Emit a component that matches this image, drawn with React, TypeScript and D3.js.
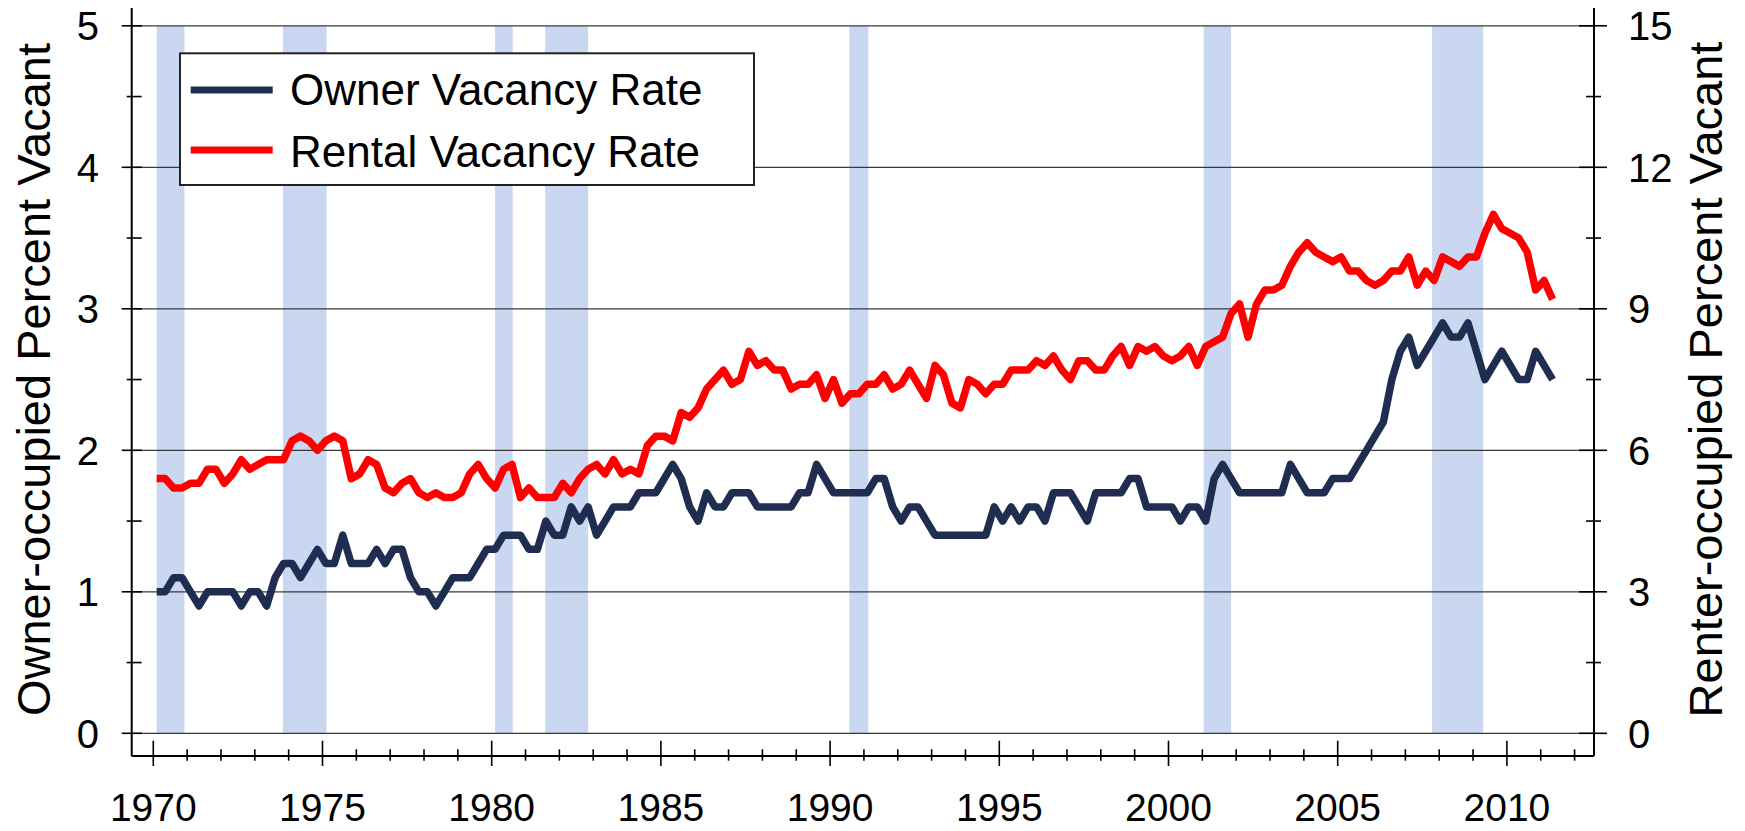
import React from "react";
import * as d3 from "d3";

// quarterly, 1970 Q1 .. 2011 Q2
const startYear = 1970;
const ownerRate = [
  1.0, 1.0, 1.1, 1.1, 1.0, 0.9, 1.0, 1.0, 1.0, 1.0,
  0.9, 1.0, 1.0, 0.9, 1.1, 1.2, 1.2, 1.1, 1.2, 1.3,
  1.2, 1.2, 1.4, 1.2, 1.2, 1.2, 1.3, 1.2, 1.3, 1.3,
  1.1, 1.0, 1.0, 0.9, 1.0, 1.1, 1.1, 1.1, 1.2, 1.3,
  1.3, 1.4, 1.4, 1.4, 1.3, 1.3, 1.5, 1.4, 1.4, 1.6,
  1.5, 1.6, 1.4, 1.5, 1.6, 1.6, 1.6, 1.7, 1.7, 1.7,
  1.8, 1.9, 1.8, 1.6, 1.5, 1.7, 1.6, 1.6, 1.7, 1.7,
  1.7, 1.6, 1.6, 1.6, 1.6, 1.6, 1.7, 1.7, 1.9, 1.8,
  1.7, 1.7, 1.7, 1.7, 1.7, 1.8, 1.8, 1.6, 1.5, 1.6,
  1.6, 1.5, 1.4, 1.4, 1.4, 1.4, 1.4, 1.4, 1.4, 1.6,
  1.5, 1.6, 1.5, 1.6, 1.6, 1.5, 1.7, 1.7, 1.7, 1.6,
  1.5, 1.7, 1.7, 1.7, 1.7, 1.8, 1.8, 1.6, 1.6, 1.6,
  1.6, 1.5, 1.6, 1.6, 1.5, 1.8, 1.9, 1.8, 1.7, 1.7,
  1.7, 1.7, 1.7, 1.7, 1.9, 1.8, 1.7, 1.7, 1.7, 1.8,
  1.8, 1.8, 1.9, 2.0, 2.1, 2.2, 2.5, 2.7, 2.8, 2.6,
  2.7, 2.8, 2.9, 2.8, 2.8, 2.9, 2.7, 2.5, 2.6, 2.7,
  2.6, 2.5, 2.5, 2.7, 2.6, 2.5,
];
const rentalRate = [
  5.4, 5.4, 5.2, 5.2, 5.3, 5.3, 5.6, 5.6, 5.3, 5.5,
  5.8, 5.6, 5.7, 5.8, 5.8, 5.8, 6.2, 6.3, 6.2, 6.0,
  6.2, 6.3, 6.2, 5.4, 5.5, 5.8, 5.7, 5.2, 5.1, 5.3,
  5.4, 5.1, 5.0, 5.1, 5.0, 5.0, 5.1, 5.5, 5.7, 5.4,
  5.2, 5.6, 5.7, 5.0, 5.2, 5.0, 5.0, 5.0, 5.3, 5.1,
  5.4, 5.6, 5.7, 5.5, 5.8, 5.5, 5.6, 5.5, 6.1, 6.3,
  6.3, 6.2, 6.8, 6.7, 6.9, 7.3, 7.5, 7.7, 7.4, 7.5,
  8.1, 7.8, 7.9, 7.7, 7.7, 7.3, 7.4, 7.4, 7.6, 7.1,
  7.5, 7.0, 7.2, 7.2, 7.4, 7.4, 7.6, 7.3, 7.4, 7.7,
  7.4, 7.1, 7.8, 7.6, 7.0, 6.9, 7.5, 7.4, 7.2, 7.4,
  7.4, 7.7, 7.7, 7.7, 7.9, 7.8, 8.0, 7.7, 7.5, 7.9,
  7.9, 7.7, 7.7, 8.0, 8.2, 7.8, 8.2, 8.1, 8.2, 8.0,
  7.9, 8.0, 8.2, 7.8, 8.2, 8.3, 8.4, 8.9, 9.1, 8.4,
  9.1, 9.4, 9.4, 9.5, 9.9, 10.2, 10.4, 10.2, 10.1, 10.0,
  10.1, 9.8, 9.8, 9.6, 9.5, 9.6, 9.8, 9.8, 10.1, 9.5,
  9.8, 9.6, 10.1, 10.0, 9.9, 10.1, 10.1, 10.6, 11.0, 10.7,
  10.6, 10.5, 10.2, 9.4, 9.6, 9.2,
];
// recessions as [start, end] in decimal years
const recessionStart = [1970.1, 1973.83, 1980.1, 1981.58, 1990.57, 2001.04, 2007.79];
const recessionEnd = [1970.92, 1975.12, 1980.62, 1982.85, 1991.13, 2001.85, 2009.3];
const yearLabels = [1970, 1975, 1980, 1985, 1990, 1995, 2000, 2005, 2010];
const ownerTicks = [0, 1, 2, 3, 4, 5];
const rentalTicks = [0, 3, 6, 9, 12, 15];
const seriesNames = ["Owner Vacancy Rate", "Rental Vacancy Rate"];
const seriesColors = ["#1f2d50", "#ff0000"];

const W = 1745;
const H = 831;
const left = 131.7;
const right = 1594;
const axisTop = 8;
const axisBottom = 756;
const font = "'Liberation Sans', Arial, sans-serif";

export default function App() {
  const x = d3.scaleLinear().domain([1969.362, 2012.574]).range([left, right]);
  const yL = d3.scaleLinear().domain([0, 5]).range([733.3, 25.8]);
  const yR = d3.scaleLinear().domain([0, 15]).range([733.3, 25.8]);

  const t = (i: number) => startYear + i / 4 + 0.1;
  const ownerPath = d3.line<number>().x((_, i) => x(t(i))).y(d => yL(d))(ownerRate) || "";
  const rentalPath = d3.line<number>().x((_, i) => x(t(i))).y(d => yR(d))(rentalRate) || "";

  const minorY = d3.range(0.5, 5, 1);
  const years = d3.range(1970, 2013);

  return (
    <svg width={W} height={H} style={{ position: "absolute", left: 0, top: 0, display: "block", background: "#fff" }} fontFamily={font}>
      {/* recession bands */}
      {recessionStart.map((s, i) => (
        <rect key={i} x={x(s)} y={yL(5)} width={x(recessionEnd[i]) - x(s)} height={yL(0) - yL(5)} fill="#c9d7f0" />
      ))}

      {/* gridlines */}
      {ownerTicks.map(v => (
        <line key={v} x1={left} x2={right} y1={yL(v)} y2={yL(v)} stroke="#3a3a3a" strokeWidth={1.3} />
      ))}

      {/* axes frame */}
      <line x1={left} x2={left} y1={axisTop} y2={axisBottom} stroke="#000" strokeWidth={2} />
      <line x1={right} x2={right} y1={axisTop} y2={axisBottom} stroke="#000" strokeWidth={2} />
      <line x1={left} x2={right} y1={axisBottom} y2={axisBottom} stroke="#000" strokeWidth={2} />

      {/* left ticks */}
      {ownerTicks.map(v => (
        <g key={v}>
          <line x1={121.7} x2={142} y1={yL(v)} y2={yL(v)} stroke="#000" strokeWidth={1.6} />
          <text x={99} y={yL(v)} dy="0.36em" textAnchor="end" fontSize={40}>{v}</text>
        </g>
      ))}
      {minorY.map(v => (
        <line key={v} x1={126.7} x2={141.7} y1={yL(v)} y2={yL(v)} stroke="#000" strokeWidth={1.6} />
      ))}

      {/* right ticks */}
      {rentalTicks.map(v => (
        <g key={v}>
          <line x1={1579} x2={1607} y1={yR(v)} y2={yR(v)} stroke="#000" strokeWidth={1.6} />
          <text x={1628} y={yR(v)} dy="0.36em" textAnchor="start" fontSize={40}>{v}</text>
        </g>
      ))}
      {minorY.map(v => (
        <line key={v} x1={1586} x2={1601} y1={yL(v)} y2={yL(v)} stroke="#000" strokeWidth={1.6} />
      ))}

      {/* x ticks */}
      {years.map(yr => {
        const major = yr % 5 === 0;
        return (
          <line key={yr} x1={x(yr)} x2={x(yr)} y1={major ? 740.7 : 749.3} y2={major ? 766 : 760.7} stroke="#000" strokeWidth={1.6} />
        );
      })}
      {yearLabels.map(yr => (
        <text key={yr} x={x(yr)} y={821} textAnchor="middle" fontSize={39}>{yr}</text>
      ))}

      {/* series */}
      <path d={ownerPath} fill="none" stroke={seriesColors[0]} strokeWidth={7.5} strokeLinejoin="round" />
      <path d={rentalPath} fill="none" stroke={seriesColors[1]} strokeWidth={7.5} strokeLinejoin="round" />

      {/* axis titles */}
      <text transform="translate(50,379.5) rotate(-90)" textAnchor="middle" fontSize={47}>Owner-occupied Percent Vacant</text>
      <text transform="translate(1721.7,379.5) rotate(-90)" textAnchor="middle" fontSize={47}>Renter-occupied Percent Vacant</text>

      {/* legend */}
      <rect x={180} y={53.3} width={574} height={131.7} fill="#fff" stroke="#222" strokeWidth={2} />
      {seriesNames.map((name, i) => (
        <g key={name}>
          <line x1={190.7} x2={272.7} y1={90 + i * 60} y2={90 + i * 60} stroke={seriesColors[i]} strokeWidth={7} />
          <text x={290} y={105 + i * 61.7} fontSize={44}>{name}</text>
        </g>
      ))}
    </svg>
  );
}
